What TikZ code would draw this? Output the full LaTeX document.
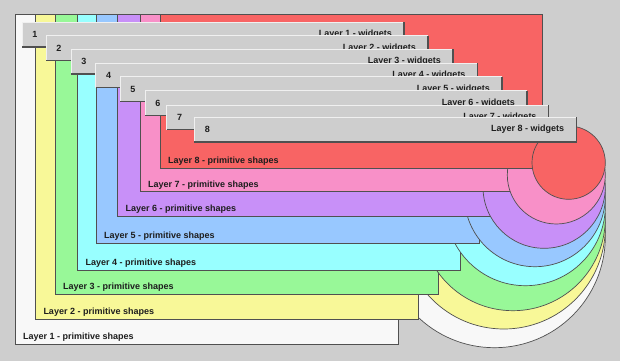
\documentclass[tikz,border=0pt]{standalone}
\usepackage{fontspec}
\setmainfont{Liberation Sans}
\definecolor{bg}{RGB}{206,206,206}
\definecolor{c1}{RGB}{248,248,248}
\definecolor{c2}{RGB}{248,248,152}
\definecolor{c3}{RGB}{152,248,152}
\definecolor{c4}{RGB}{152,255,255}
\definecolor{c5}{RGB}{152,200,255}
\definecolor{c6}{RGB}{200,144,248}
\definecolor{c7}{RGB}{248,144,200}
\definecolor{c8}{RGB}{248,100,100}
\definecolor{edge}{RGB}{80,80,80}
\definecolor{ink}{RGB}{30,30,30}
\definecolor{hl}{RGB}{240,240,240}
\begin{document}
\begin{tikzpicture}[x=1pt,y=-1pt,
  lbl/.style={font=\fontsize{9}{10}\selectfont\bfseries, text=ink, inner sep=0pt},
  shapeline/.style={draw=edge, line width=0.7pt},
  barbox/.style={fill=bg, inner sep=0pt, outer sep=0pt, minimum width=382pt, minimum height=24.7pt, anchor=north west},
  hilite/.style={draw=hl, line width=1pt},
  shadow/.style={draw=edge, line width=1.2pt},
]
\fill[bg] (0,0) rectangle (620,361);
\useasboundingbox (0,0) rectangle (620,361);
% primitive shapes, layer 1 at the back
\foreach \i/\l/\b/\r/\d in {1/15/344/398.3/221.7, 2/35.3/319.3/418.3/203, 3/55/294/438.3/184.7, 4/77.3/270/460/159.7, 5/96/243/479/140.7, 6/117.3/216/500/122.3, 7/140/191.7/520/98, 8/160/168/542/73.3}{
  \path[shapeline, fill=c\i] (\l,14) rectangle (\r,\b);
  \node[lbl, anchor=west] (p\i) at (\l+8, \b-7) {Layer \i\ - primitive shapes};
  \path[shapeline, fill=c\i] (605.3-\d/2, 126+\d/2) circle[radius=\d/2];
}
% widget bars, above all shapes
\foreach \i/\x/\y in {1/22/22.3, 2/46/36, 3/71/49.3, 4/95.7/63, 5/120/76.7, 6/145/90.7, 7/166.7/105, 8/194.3/117.3}{
  \node[barbox] (b\i) at (\x,\y) {};
  \draw[hilite] (b\i.south west) |- (b\i.north east);
  \draw[shadow] (b\i.south west) -| (b\i.north east);
  \node[lbl] (n\i) at ([xshift=13pt]b\i.west) {\i};
  \node[lbl, anchor=east] (w\i) at ([xshift=-12pt]b\i.east) {Layer \i\ - widgets};
}
\end{tikzpicture}
\end{document}
